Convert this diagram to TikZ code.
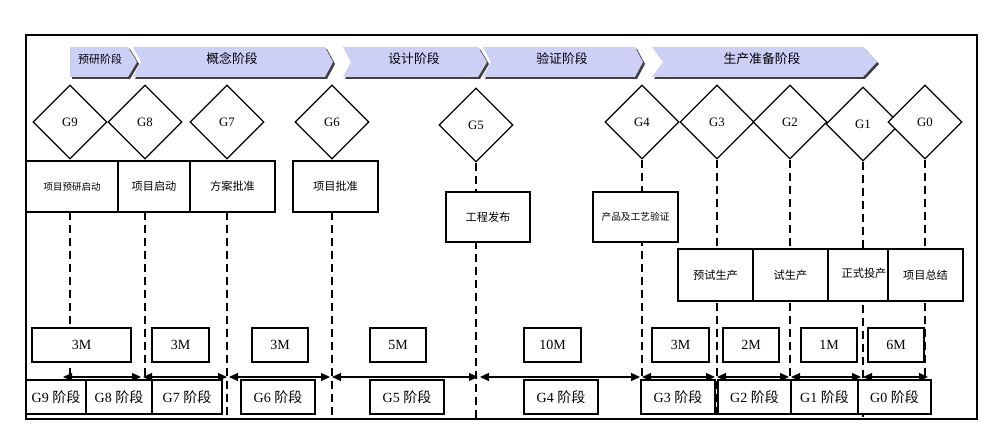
\documentclass[tikz,border=0pt]{standalone}
\usepackage{fontspec}
\setmainfont{Liberation Serif}
\newfontfamily\cjk{Noto Sans CJK SC}
\usepackage{xcolor}
\usepackage{tikz}
\usetikzlibrary{arrows.meta, shapes.geometric}
\definecolor{phaseblue}{RGB}{204,207,246}

\begin{document}
\begin{tikzpicture}[x=0.5pt,y=-0.5pt]
 \tikzstyle{phase}=[fill=phaseblue,
   preaction={fill=black!75,transform canvas={xshift=1pt,yshift=-1pt}}]
 \tikzstyle{phasetext}=[inner sep=0pt,font=\cjk\fontsize{6.4}{7}\selectfont]
 \tikzstyle{gate}=[diamond,draw=black,fill=white,line width=0.6pt,
   minimum width=37pt,minimum height=37pt,inner sep=0pt,
   font=\fontsize{6.4}{7}\selectfont]
 \tikzstyle{task}=[rectangle,draw=black,fill=white,line width=0.7pt,
   inner sep=0pt,font=\cjk\fontsize{5.6}{6.5}\selectfont]
 \tikzstyle{lenbox}=[task,minimum height=17pt,font=\fontsize{7}{8}\selectfont]
 \tikzstyle{stagebox}=[lenbox]
 \tikzstyle{milestone}=[dash pattern=on 4pt off 2.5pt,line width=0.7pt]
 \tikzstyle{duration}=[{Triangle[length=4.5pt,width=4pt]}-{Triangle[length=4.5pt,width=4pt]},
   line width=0.6pt,shorten <=0.5pt,shorten >=0.5pt]
 \useasboundingbox (0,0) rectangle (1000,433);
 \draw[line width=0.9pt] (26,35) rectangle (977,419);
 % phase bar
 \fill[phase] (70,47) -- (128,47) -- (137,62) -- (128,77) -- (70,77) -- cycle;
 \fill[phase] (133,47) -- (325,47) -- (333,62) -- (325,77) -- (133,77) -- (141,62) -- cycle;
 \fill[phase] (343,47) -- (478,47) -- (487,62) -- (478,77) -- (343,77) -- (351,62) -- cycle;
 \fill[phase] (483,47) -- (635,47) -- (643,62) -- (635,77) -- (483,77) -- (491,62) -- cycle;
 \fill[phase] (652,47) -- (863,47) -- (877,62) -- (863,77) -- (652,77) -- (663,62) -- cycle;
 \node (pre) [phasetext,font=\cjk\fontsize{5.5}{6}\selectfont] at (100,59) {预研阶段};
 \node (concept) [phasetext] at (232,59) {概念阶段};
 \node (design) [phasetext] at (414,59) {设计阶段};
 \node (validate) [phasetext] at (562,59) {验证阶段};
 \node (prep) [phasetext] at (762,59) {生产准备阶段};
 % gates
 \node (g9) [gate] at (70,122) {G9};
 \node (g8) [gate] at (145,122) {G8};
 \node (g7) [gate] at (227,122) {G7};
 \node (g6) [gate] at (332,122) {G6};
 \node (g5) [gate] at (476,125) {G5};
 \node (g4) [gate] at (642,122) {G4};
 \node (g3) [gate] at (717,122) {G3};
 \node (g2) [gate] at (790,122) {G2};
 \node (g1) [gate] at (863,124) {G1};
 \node (g0) [gate] at (925,122) {G0};
 \coordinate (b9) at (70,419);
 \coordinate (b8) at (145,419);
 \coordinate (b7) at (227,419);
 \coordinate (b6) at (332,419);
 \coordinate (b5) at (476,419);
 \coordinate (b4) at (642,419);
 \coordinate (b3) at (717,419);
 \coordinate (b2) at (790,419);
 \coordinate (b1) at (863,419);
 \coordinate (b0) at (925,377);
 \draw[milestone] (g9.south) -- (b9);
 \draw[milestone] (g8.south) -- (b8);
 \draw[milestone] (g7.south) -- (b7);
 \draw[milestone] (g6.south) -- (b6);
 \draw[milestone] (g5.south) -- (b5);
 \draw[milestone] (g4.south) -- (b4);
 \draw[milestone] (g3.south) -- (b3);
 \draw[milestone] (g2.south) -- (b2);
 \draw[milestone] (g1.south) -- (b1);
 \draw[milestone] (g0.south) -- (b0);
 % tasks
 \node (prekick) [task,minimum width=46pt,minimum height=25.5pt,
   font=\cjk\fontsize{4.75}{5.5}\selectfont] at (72,186.5) {项目预研启动};
 \node (kick) [task,minimum width=36pt,minimum height=25.5pt] at (154,186.5) {项目启动};
 \node (plan) [task,minimum width=42.5pt,minimum height=25.5pt] at (232.5,186.5) {方案批准};
 \node (approve) [task,minimum width=42.5pt,minimum height=25.5pt] at (335.5,186.5) {项目批准};
 \node (release) [task,minimum width=42pt,minimum height=25pt] at (488,217) {工程发布};
 \node (verify) [task,minimum width=42.5pt,minimum height=25pt,
   font=\cjk\fontsize{4.85}{5.5}\selectfont] at (635.5,217) {产品及工艺验证};
 \node (pretrial) [task,minimum width=37.5pt,minimum height=26pt] at (715.5,275) {预试生产};
 \node (trial) [task,minimum width=37.5pt,minimum height=26pt] at (790.5,275) {试生产};
 \node (mass) [task,minimum width=30pt,minimum height=26pt] at (858,275) {};
 \node (summary) [task,minimum width=37.5pt,minimum height=26pt] at (925.5,275) {项目总结};
 \node (masstext) [task,draw=none,fill=none] at (864,273) {正式投产};
 % durations
 \node (d9) [lenbox,minimum width=49.5pt] at (81.5,345) {3M};
 \node (d8) [lenbox,minimum width=28.5pt] at (180.5,345) {3M};
 \node (d7) [lenbox,minimum width=28pt] at (280,345) {3M};
 \node (d6) [lenbox,minimum width=28pt] at (398,345) {5M};
 \node (d5) [lenbox,minimum width=28.5pt] at (552.5,345) {10M};
 \node (d4) [lenbox,minimum width=28.5pt] at (680.5,345) {3M};
 \node (d3) [lenbox,minimum width=28pt] at (751,345) {2M};
 \node (d2) [lenbox,minimum width=28pt] at (829,345) {1M};
 \node (d1) [lenbox,minimum width=28pt] at (896,345) {6M};
 % stages
 \node (s9) [stagebox,minimum width=30pt] at (56,397) {G9 {\cjk 阶段}};
 \node (s8) [stagebox,minimum width=33pt] at (119,397) {G8 {\cjk 阶段}};
 \node (s7) [stagebox,minimum width=35pt] at (187,397) {G7 {\cjk 阶段}};
 \node (s6) [stagebox,minimum width=37pt] at (278,397) {G6 {\cjk 阶段}};
 \node (s5) [stagebox,minimum width=37pt] at (407,397) {G5 {\cjk 阶段}};
 \node (s4) [stagebox,minimum width=37pt] at (561,397) {G4 {\cjk 阶段}};
 \node (s3) [stagebox,minimum width=37pt] at (678,397) {G3 {\cjk 阶段}};
 \node (s2) [stagebox,minimum width=36.5pt] at (754.5,397) {G2 {\cjk 阶段}};
 \node (s1) [stagebox,minimum width=33.5pt] at (824.5,397) {G1 {\cjk 阶段}};
 \node (s0) [stagebox,minimum width=36.5pt] at (894.5,397) {G0 {\cjk 阶段}};
 \coordinate (m9) at (62,377);
 \coordinate (m8) at (142,377);
 \coordinate (m7) at (228,377);
 \coordinate (m6) at (331,377);
 \coordinate (m5) at (479,377);
 \coordinate (m4) at (641,377);
 \coordinate (m3) at (716,377);
 \coordinate (m2) at (790,377);
 \coordinate (m1) at (862,377);
 \coordinate (m0) at (929,377);
 \draw[duration] (m9) -- (m8);
 \draw[duration] (m8) -- (m7);
 \draw[duration] (m7) -- (m6);
 \draw[duration] (m6) -- (m5);
 \draw[duration] (m5) -- (m4);
 \draw[duration] (m4) -- (m3);
 \draw[duration] (m3) -- (m2);
 \draw[duration] (m2) -- (m1);
 \draw[duration] (m1) -- (m0);
\end{tikzpicture}
\end{document}
